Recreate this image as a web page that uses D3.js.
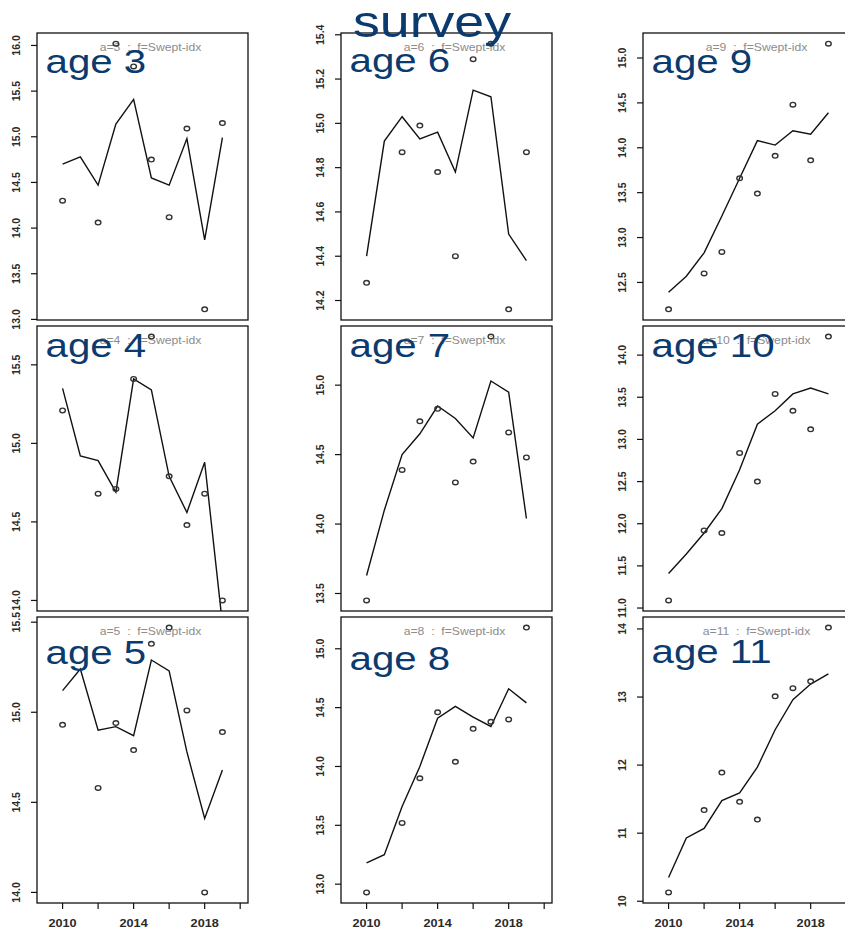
<!DOCTYPE html>
<html>
<head>
<meta charset="utf-8">
<script src="https://cdn.jsdelivr.net/npm/d3@7"></script>
<style>
  body { margin: 0; background: #fff; }
  svg { display: block; font-family: "Liberation Sans", Arial, sans-serif; }
</style>
</head>
<body>
<div id="chart"></div>
<script>
// survey index vs fitted, one panel per age
var years = [2010, 2011, 2012, 2013, 2014, 2015, 2016, 2017, 2018, 2019];
var ages = [3, 4, 5, 6, 7, 8, 9, 10, 11];

// observed survey points (2011 missing)
var obsAge3  = [14.30, null, 14.06, 16.02, 15.77, 14.75, 14.12, 15.09, 13.11, 15.15];
var obsAge4  = [15.21, null, 14.68, 14.71, 15.41, 15.68, 14.79, 14.48, 14.68, 14.00];
var obsAge5  = [14.93, null, 14.58, 14.94, 14.79, 15.38, 15.47, 15.01, 14.00, 14.89];
var obsAge6  = [14.28, null, 14.87, 14.99, 14.78, 14.40, 15.29, 15.36, 14.16, 14.87];
var obsAge7  = [13.45, null, 14.39, 14.74, 14.83, 14.30, 14.45, 15.35, 14.66, 14.48];
var obsAge8  = [12.93, null, 13.52, 13.90, 14.46, 14.04, 14.32, 14.38, 14.40, 15.18];
var obsAge9  = [12.20, null, 12.60, 12.84, 13.66, 13.49, 13.91, 14.48, 13.86, 15.16];
var obsAge10 = [11.09, null, 11.92, 11.89, 12.84, 12.50, 13.54, 13.34, 13.12, 14.22];
var obsAge11 = [10.13, null, 11.34, 11.89, 11.46, 11.20, 13.01, 13.13, 13.23, 14.02];

// fitted line
var fitAge3  = [14.70, 14.78, 14.47, 15.14, 15.41, 14.55, 14.47, 14.98, 13.87, 14.99];
var fitAge4  = [15.35, 14.92, 14.89, 14.69, 15.41, 15.34, 14.79, 14.56, 14.88, 13.85];
var fitAge5  = [15.12, 15.24, 14.90, 14.92, 14.87, 15.29, 15.23, 14.78, 14.41, 14.68];
var fitAge6  = [14.40, 14.92, 15.03, 14.93, 14.96, 14.78, 15.15, 15.12, 14.50, 14.38];
var fitAge7  = [13.63, 14.10, 14.50, 14.65, 14.85, 14.76, 14.62, 15.03, 14.95, 14.04];
var fitAge8  = [13.18, 13.25, 13.66, 14.00, 14.41, 14.51, 14.42, 14.34, 14.66, 14.54];
var fitAge9  = [12.39, 12.57, 12.83, 13.24, 13.66, 14.08, 14.03, 14.19, 14.15, 14.39];
var fitAge10 = [11.41, 11.64, 11.89, 12.18, 12.64, 13.18, 13.34, 13.54, 13.61, 13.54];
var fitAge11 = [10.35, 10.93, 11.07, 11.48, 11.59, 11.97, 12.52, 12.96, 13.19, 13.34];

// y tick values per age
var yTicksAge3  = [13, 13.5, 14, 14.5, 15, 15.5, 16];
var yTicksAge4  = [14, 14.5, 15, 15.5];
var yTicksAge5  = [14, 14.5, 15, 15.5];
var yTicksAge6  = [14.2, 14.4, 14.6, 14.8, 15.0, 15.2, 15.4];
var yTicksAge7  = [13.5, 14, 14.5, 15];
var yTicksAge8  = [13, 13.5, 14, 14.5, 15];
var yTicksAge9  = [12.5, 13, 13.5, 14, 14.5, 15];
var yTicksAge10 = [11, 11.5, 12, 12.5, 13, 13.5, 14];
var yTicksAge11 = [10, 11, 12, 13, 14];

var xTicks = [2010, 2012, 2014, 2016, 2018, 2020];
var xTickLabels = [2010, 2014, 2018];
var xLimits = [2009, 2020];

var obsList = [obsAge3, obsAge4, obsAge5, obsAge6, obsAge7, obsAge8, obsAge9, obsAge10, obsAge11];
var fitList = [fitAge3, fitAge4, fitAge5, fitAge6, fitAge7, fitAge8, fitAge9, fitAge10, fitAge11];
var tickList = [yTicksAge3, yTicksAge4, yTicksAge5, yTicksAge6, yTicksAge7, yTicksAge8, yTicksAge9, yTicksAge10, yTicksAge11];

// layout
var width = 845, height = 930;
var colLeft = [37, 341, 643];
var panelW = 211;
var rowTop = [33, 326, 617];
var rowBottom = [320, 611, 903];
var labelBase = [[73, 72, 73], [357, 357, 357], [664, 670, 663]];
var stretch = 1.22;   // the slide is squeezed horizontally
var navy = "#0b3a6e";
var nb = "\u00a0";

var svg = d3.select("#chart").append("svg")
  .attr("width", width)
  .attr("height", height);

var defs = svg.append("defs");

// R style axis range: 4% padding
function pad(lo, hi) {
  var d = (hi - lo) * 0.04;
  return [lo - d, hi + d];
}

ages.forEach(function(age, i) {
  var col = Math.floor(i / 3), row = i % 3;
  var x0 = colLeft[col], x1 = x0 + panelW;
  var y0 = rowTop[row], y1 = rowBottom[row];

  var obs = obsList[i], fit = fitList[i];
  var ext = d3.extent(obs.filter(function(v) { return v != null; }));

  var x = d3.scaleLinear().domain(pad(xLimits[0], xLimits[1])).range([x0, x1]);
  var y = d3.scaleLinear().domain(pad(ext[0], ext[1])).range([y1, y0]);

  var g = svg.append("g");

  defs.append("clipPath").attr("id", "clip" + age)
    .append("rect")
    .attr("x", x0).attr("y", y0)
    .attr("width", panelW).attr("height", y1 - y0);

  // y axis
  var dec = age == 11 ? 0 : 1;
  var ticks = tickList[i].filter(function(t) {
    return t >= y.domain()[0] && t <= y.domain()[1];
  });
  g.selectAll(".ytick").data(ticks).enter().append("line")
    .attr("x1", x0 - 6).attr("x2", x0)
    .attr("y1", function(d) { return y(d); })
    .attr("y2", function(d) { return y(d); })
    .attr("stroke", "#111").attr("stroke-width", 1.2);

  g.selectAll(".ylab").data(ticks).enter().append("text")
    .attr("transform", function(d) { return "translate(" + (x0 - 21) + "," + y(d) + ") rotate(-90)"; })
    .attr("dy", "0.35em")
    .attr("text-anchor", "middle")
    .attr("font-size", "10.5px")
    .attr("font-weight", "bold")
    .attr("fill", "#2a2a2a")
    .text(function(d) { return d.toFixed(dec); });

  // x axis on bottom row only
  if (row == 2) {
    g.selectAll(".xtick").data(xTicks).enter().append("line")
      .attr("x1", function(d) { return x(d); })
      .attr("x2", function(d) { return x(d); })
      .attr("y1", y1).attr("y2", y1 + 6)
      .attr("stroke", "#111").attr("stroke-width", 1.2);

    g.selectAll(".xlab").data(xTickLabels).enter().append("text")
      .attr("transform", function(d) { return "translate(" + x(d) + "," + (y1 + 24) + ") scale(1.1,1)"; })
      .attr("text-anchor", "middle")
      .attr("font-size", "11.5px")
      .attr("font-weight", "bold")
      .attr("fill", "#2a2a2a")
      .text(function(d) { return d; });
  }

  // subtitle
  g.append("text")
    .attr("transform", "translate(" + ((x0 + x1) / 2 + 8) + "," + (y0 + 18) + ") scale(" + stretch + ",1)")
    .attr("text-anchor", "middle")
    .attr("font-size", "10px")
    .attr("fill", "#8c8c8c")
    .text("a=" + age + nb + nb + ":" + nb + nb + "f=Swept-idx");

  var inner = g.append("g").attr("clip-path", "url(#clip" + age + ")");

  var line = d3.line()
    .x(function(d, k) { return x(years[k]); })
    .y(function(d) { return y(d); });

  inner.append("path")
    .datum(fit)
    .attr("d", line)
    .attr("fill", "none")
    .attr("stroke", "#111")
    .attr("stroke-width", 1.4);

  inner.selectAll("ellipse")
    .data(obs.map(function(v, k) { return {year: years[k], v: v}; })
      .filter(function(d) { return d.v != null; }))
    .enter().append("ellipse")
    .attr("cx", function(d) { return x(d.year); })
    .attr("cy", function(d) { return y(d.v); })
    .attr("rx", 2.8).attr("ry", 2.3)
    .attr("fill", "none")
    .attr("stroke", "#333")
    .attr("stroke-width", 1.4);

  // frame
  g.append("rect")
    .attr("x", x0).attr("y", y0)
    .attr("width", panelW).attr("height", y1 - y0)
    .attr("fill", "none")
    .attr("stroke", "#111")
    .attr("stroke-width", 1.3);
});

// overlaid age labels
ages.forEach(function(age, i) {
  var col = Math.floor(i / 3), row = i % 3;
  svg.append("text")
    .attr("transform", "translate(" + (colLeft[col] + 8.5) + "," + labelBase[row][col] + ") scale(" + stretch + ",1)")
    .attr("font-size", "33px")
    .attr("fill", navy)
    .text("age " + age);
});

svg.append("text")
  .attr("transform", "translate(432,37) scale(" + stretch + ",1)")
  .attr("text-anchor", "middle")
  .attr("font-size", "44px")
  .attr("fill", navy)
  .text("survey");
</script>
</body>
</html>
